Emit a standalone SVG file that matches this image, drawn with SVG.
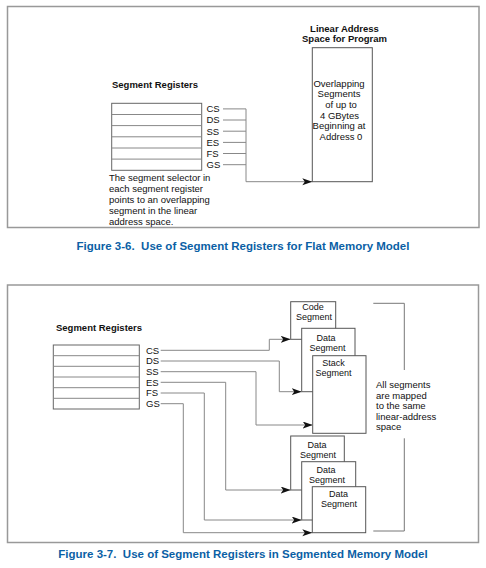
<svg xmlns="http://www.w3.org/2000/svg" width="486" height="568" viewBox="0 0 486 568">
<style>
text{font-family:"Liberation Sans",Arial,sans-serif;font-size:9.5px;fill:#111}
.b{font-weight:bold}
.s{font-size:9px}
.cap{font-weight:bold;font-size:11.5px;fill:#0b5fa5}
.mid{text-anchor:middle}
.frame{fill:none;stroke:#999;stroke-width:1.5}
.box{fill:#fff;stroke:#555;stroke-width:1}
.reg{fill:#fff;stroke:#666;stroke-width:1}
.row{stroke:#888;stroke-width:1}
.con{fill:none;stroke:#888;stroke-width:1}
.br{fill:none;stroke:#777;stroke-width:1}
</style>
<defs>
<marker id="ah" markerUnits="userSpaceOnUse" markerWidth="11" markerHeight="8" refX="10" refY="3.5" orient="auto">
<path d="M0,0 L10,3.5 L0,7 L2.5,3.5 z" fill="#111"/>
</marker>
</defs>
<rect fill="#fff" x="0" y="0" width="486" height="568"/>

<g id="figure-3-6">
<rect class="frame" x="7.5" y="6.5" width="471.5" height="221"/>
<text class="cap mid" x="243" y="250">Figure 3-6.&#160; Use of Segment Registers for Flat Memory Model</text>
</g>

<g id="regs-flat">
<text class="b" x="112" y="88">Segment Registers</text>
<rect class="reg" x="111.7" y="103.3" width="90" height="67"/>
<g class="row">
<line x1="111.7" y1="114.5" x2="201.7" y2="114.5"/>
<line x1="111.7" y1="125.6" x2="201.7" y2="125.6"/>
<line x1="111.7" y1="136.8" x2="201.7" y2="136.8"/>
<line x1="111.7" y1="148" x2="201.7" y2="148"/>
<line x1="111.7" y1="159.1" x2="201.7" y2="159.1"/>
</g>
<text x="206.5" y="112.3">CS</text>
<text x="206.5" y="123.4">DS</text>
<text x="206.5" y="134.6">SS</text>
<text x="206.5" y="145.8">ES</text>
<text x="206.5" y="156.9">FS</text>
<text x="206.5" y="168.1">GS</text>
</g>

<g id="note-flat">
<text x="109" y="181">The segment selector in</text>
<text x="109" y="192">each segment register</text>
<text x="109" y="203">points to an overlapping</text>
<text x="109" y="214">segment in the linear</text>
<text x="109" y="225">address space.</text>
</g>

<g id="linear-space">
<text class="b mid" x="344.5" y="32">Linear Address</text>
<text class="b mid" x="344.5" y="42">Space for Program</text>
<rect class="box" x="312.3" y="47.7" width="60" height="134"/>
<text class="mid" x="339" y="86.5">Overlapping</text>
<text class="mid" x="339" y="97">Segments</text>
<text class="mid" x="341" y="108">of up to</text>
<text class="mid" x="339.5" y="118.5">4 GBytes</text>
<text class="mid" x="339" y="129">Beginning at</text>
<text class="mid" x="341" y="140">Address 0</text>
</g>

<g id="figure-3-7">
<rect class="frame" x="7.5" y="285" width="471" height="257.5"/>
<text class="cap mid" x="243" y="558">Figure 3-7.&#160; Use of Segment Registers in Segmented Memory Model</text>
</g>

<g id="regs-seg">
<text class="b" x="56" y="331">Segment Registers</text>
<rect class="reg" x="53.3" y="345" width="86" height="64"/>
<g class="row">
<line x1="53.3" y1="355.7" x2="139.3" y2="355.7"/>
<line x1="53.3" y1="366.3" x2="139.3" y2="366.3"/>
<line x1="53.3" y1="377" x2="139.3" y2="377"/>
<line x1="53.3" y1="387.7" x2="139.3" y2="387.7"/>
<line x1="53.3" y1="398.3" x2="139.3" y2="398.3"/>
</g>
<text x="146" y="353.7">CS</text>
<text x="146" y="364.4">DS</text>
<text x="146" y="375.1">SS</text>
<text x="146" y="385.7">ES</text>
<text x="146" y="396.4">FS</text>
<text x="146" y="407.1">GS</text>
</g>

<g id="code-segment">
<rect class="box" x="290.7" y="301.7" width="45" height="37.6"/>
<text class="mid s" x="313" y="310">Code</text>
<text class="mid s" x="314" y="320">Segment</text>
</g>
<g id="data-segment-1">
<rect class="box" x="301.7" y="328.3" width="53.3" height="63.4"/>
<text class="mid s" x="326" y="340.5">Data</text>
<text class="mid s" x="327.5" y="350.5">Segment</text>
</g>
<g id="stack-segment">
<rect class="box" x="312.7" y="355.7" width="53.3" height="77.6"/>
<text class="mid s" x="333.5" y="365.5">Stack</text>
<text class="mid s" x="333.5" y="375.5">Segment</text>
</g>

<g id="data-segment-2">
<rect class="box" x="290.7" y="436" width="53.6" height="54"/>
<text class="mid s" x="317" y="447.5">Data</text>
<text class="mid s" x="318" y="457.5">Segment</text>
</g>
<g id="data-segment-3">
<rect class="box" x="301.7" y="461.7" width="54" height="58.3"/>
<text class="mid s" x="326" y="473">Data</text>
<text class="mid s" x="327" y="483">Segment</text>
</g>
<g id="data-segment-4">
<rect class="box" x="312.3" y="486.7" width="53.4" height="46"/>
<text class="mid s" x="338.5" y="497">Data</text>
<text class="mid s" x="339" y="507">Segment</text>
</g>

<g id="mapping-note">
<polyline class="br" points="373.3,303.3 404.3,303.3 404.3,370"/>
<polyline class="br" points="404.3,438.3 404.3,531 373.3,531"/>
<text x="376" y="388">All segments</text>
<text x="376" y="398.5">are mapped</text>
<text x="376" y="409">to the same</text>
<text x="376" y="419.5">linear-address</text>
<text x="376" y="430">space</text>
</g>

<g id="connectors">
<line class="con" x1="223" y1="108.9" x2="246" y2="108.9"/>
<line class="con" x1="223" y1="120" x2="246" y2="120"/>
<line class="con" x1="223" y1="131.2" x2="246" y2="131.2"/>
<line class="con" x1="223" y1="142.4" x2="246" y2="142.4"/>
<line class="con" x1="223" y1="153.5" x2="246" y2="153.5"/>
<line class="con" x1="223" y1="164.7" x2="246" y2="164.7"/>
<polyline class="con" points="246,108.9 246,181.7 312.3,181.7" marker-end="url(#ah)"/>
<polyline class="con" points="160.7,350.3 269.3,350.3 269.3,339.3 290.7,339.3" marker-end="url(#ah)"/>
<polyline class="con" points="160.7,361 279.3,361 279.3,391.7 301.7,391.7" marker-end="url(#ah)"/>
<polyline class="con" points="160.7,371.7 256,371.7 256,425 312.7,425" marker-end="url(#ah)"/>
<polyline class="con" points="160.7,382.3 225.7,382.3 225.7,490 290.7,490" marker-end="url(#ah)"/>
<polyline class="con" points="160.7,393 204.3,393 204.3,520 301.7,520" marker-end="url(#ah)"/>
<polyline class="con" points="160.7,403.7 183.3,403.7 183.3,532.7 312.3,532.7" marker-end="url(#ah)"/>
</g>
</svg>
